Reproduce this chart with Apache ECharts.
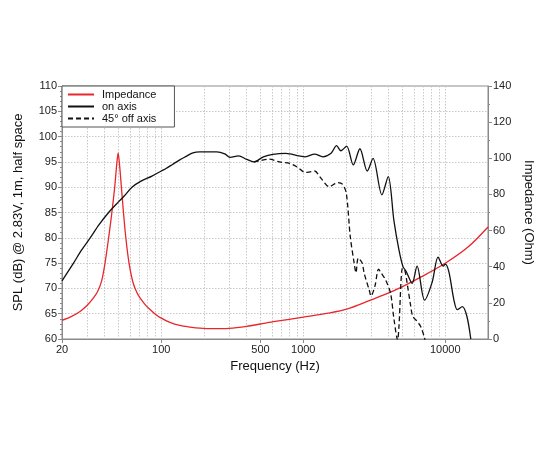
<!DOCTYPE html>
<html>
<head>
<meta charset="utf-8">
<script src="https://cdn.jsdelivr.net/npm/echarts@6/dist/echarts.min.js"></script>
<style>html,body{margin:0;padding:0;background:#fff}#c{width:550px;height:450px}</style>
</head>
<body>
<div id="c"></div>
<script>
// Impedance curve (Hz, Ohm)
var impFreq = [20,23,26.8,30,33.1,35.5,38,40,42.6,44.9,47,48.5,49.7,50.9,52.4,54.2,56.3,59.3,63.4,68,72,77,83.4,90,98.5,115,135,160,187,230,300,400,500,634,1000,1500,2023,3015,4000,5000,6826,10000,14530,20000];
var impVals = [10.3,12.2,15.2,18.5,22.5,26,32,41,56,70,84,96,103,96,84,70,56,42,31,25,22,19,16.3,14,11.8,9.2,7.5,6.6,6,5.7,5.9,7,8.3,9.7,12.1,14.3,16.5,21.7,25.5,29,34.5,41.9,51,62];
// On axis SPL (Hz, dB)
var onFreq = [20,24.1,27.5,31.6,36.5,42.6,50,55,62.2,72,86,100,108,120,135,150,167,187,246,280,305,350,400,448,524,611,754,931,1035,1202,1374,1570,1717,1840,2020,2250,2507,2823,3100,3580,3966,4345,4720,5040,5320,5840,6330,7150,8100,8900,9690,10000,10600,11500,12150,13200,14200,15130];
var onVals = [71.5,75,77.6,80,82.6,85,87.1,88.3,90,91.2,92.2,93.2,93.7,94.5,95.4,96.1,96.8,97,97,96.6,95.9,96.2,95.5,95,96,96.5,96.7,96.2,96,96.55,96,96.7,98.2,97.2,98.1,94.4,97.6,93.2,95.7,88.5,92.1,83.5,77.6,74.3,73.3,71,74.4,67.7,71.3,76.2,74.4,74.8,73.3,67.75,65.8,66.4,64.5,60];
// 45 deg off axis SPL (Hz, dB)
var offFreq = [448,490,577,679,800,905,1035,1100,1202,1335,1525,1650,1745,1887,2010,2144,2283,2350,2440,2600,2685,2913,3000,3200,3390,3545,3800,4120,4360,4620,4720,5000,5200,5390,5690,5900,6330,6700,7100,7300];
var offVals = [95,95.2,95.55,95,94.7,94,92.9,93,93.2,91.75,90.1,90.6,90.9,90.6,88.8,80.2,75,73.1,76,75,73,69.7,68.5,70.5,73.8,73,71.7,69,63.8,59.8,62.5,74,73.5,71,66.8,64.5,63.5,62.5,60.5,59];
// Axis tick values
var gridFreqs = [30,40,50,60,70,80,90,100,200,300,400,500,600,700,800,900,1000,2000,3000,4000,5000,6000,7000,8000,9000,10000];
var labelFreqs = [20,100,500,1000,10000];

function zip(a, b) { return a.map(function (v, i) { return [v, b[i]]; }); }
var lg = function (v) { return Math.log10(v); };

var axisColor = '#8a8a8a';
var labelStyle = { color: '#222', fontSize: 11, fontFamily: 'Liberation Sans, Arial, sans-serif' };
var nameStyle = { color: '#111', fontSize: 13, fontFamily: 'Liberation Sans, Arial, sans-serif' };

var chart = echarts.init(document.getElementById('c'));
chart.setOption({
  animation: false,
  backgroundColor: '#fff',
  grid: { left: 62, right: 62, top: 86, bottom: 111, show: true, borderColor: axisColor, borderWidth: 1, backgroundColor: 'transparent' },
  legend: {
    orient: 'vertical', left: 62, top: 86,
    data: ['Impedance', 'on axis', '45° off axis'],
    backgroundColor: '#fff', borderColor: '#555', borderWidth: 1,
    padding: [3, 18, 3, 5], itemWidth: 26, itemHeight: 11, itemGap: 1,
    itemStyle: { opacity: 0 },
    textStyle: { color: '#111', fontSize: 11, fontFamily: 'Liberation Sans, Arial, sans-serif', padding: [0, 0, 0, 3] }
  },
  xAxis: [
    { type: 'log', logBase: 10, min: 20, max: 20000, position: 'bottom',
      axisLine: { show: true, lineStyle: { color: axisColor } },
      axisTick: { show: false }, axisLabel: { show: false }, splitLine: { show: false } },
    { type: 'value', min: lg(20), max: lg(20000), position: 'bottom',
      axisLine: { show: false },
      axisTick: { show: false, customValues: gridFreqs.map(lg) },
      axisLabel: { show: false },
      splitLine: { show: true, lineStyle: { color: '#c8c8c8', type: [1.5, 1.5], width: 1 } } },
    { type: 'value', min: lg(20), max: lg(20000), position: 'bottom',
      name: 'Frequency (Hz)', nameLocation: 'middle', nameGap: 21, nameTextStyle: nameStyle,
      axisLine: { show: false },
      axisTick: { show: true, length: 4, customValues: labelFreqs.map(lg), lineStyle: { color: axisColor } },
      axisLabel: { show: true, margin: 5, customValues: labelFreqs.map(lg), color: labelStyle.color, fontSize: 11, fontFamily: labelStyle.fontFamily,
        formatter: function (v) { return String(Math.round(Math.pow(10, v))); } },
      splitLine: { show: false } }
  ],
  yAxis: [
    { type: 'value', min: 60, max: 110, interval: 5, position: 'left',
      name: 'SPL (dB) @ 2.83V, 1m, half space', nameLocation: 'middle', nameGap: 37, nameTextStyle: nameStyle,
      axisLine: { show: true, lineStyle: { color: axisColor } },
      axisTick: { show: true, length: 4, lineStyle: { color: axisColor } },
      minorTick: { show: true, splitNumber: 5, length: 2, lineStyle: { color: axisColor } },
      axisLabel: { margin: 5, color: labelStyle.color, fontSize: 11, fontFamily: labelStyle.fontFamily },
      splitLine: { show: true, lineStyle: { color: '#c8c8c8', type: [1.5, 1.5], width: 1 } } },
    { type: 'value', min: 0, max: 140, interval: 20, position: 'right',
      name: 'Impedance (Ohm)', nameLocation: 'middle', nameGap: 33, nameRotate: -90, nameTextStyle: nameStyle,
      axisLine: { show: true, lineStyle: { color: axisColor } },
      axisTick: { show: true, length: 4, lineStyle: { color: axisColor } },
      minorTick: { show: true, splitNumber: 2, length: 2, lineStyle: { color: axisColor } },
      axisLabel: { margin: 5, color: labelStyle.color, fontSize: 11, fontFamily: labelStyle.fontFamily },
      splitLine: { show: false } }
  ],
  series: [
    { name: 'Impedance', type: 'line', xAxisIndex: 0, yAxisIndex: 1, data: zip(impFreq, impVals),
      symbol: 'none', smooth: 0.3, clip: true,
      lineStyle: { color: '#e8262b', width: 1.3 }, itemStyle: { color: '#e8262b' }, z: 3 },
    { name: 'on axis', type: 'line', xAxisIndex: 0, yAxisIndex: 0, data: zip(onFreq, onVals),
      symbol: 'none', smooth: 0.3, clip: true,
      lineStyle: { color: '#111', width: 1.3 }, itemStyle: { color: '#111' }, z: 4 },
    { name: '45° off axis', type: 'line', xAxisIndex: 0, yAxisIndex: 0, data: zip(offFreq, offVals),
      symbol: 'none', smooth: 0.3, clip: true,
      lineStyle: { color: '#111', width: 1.3, type: [5, 3] }, itemStyle: { color: '#111' }, z: 4 }
  ]
});
</script>
</body>
</html>
